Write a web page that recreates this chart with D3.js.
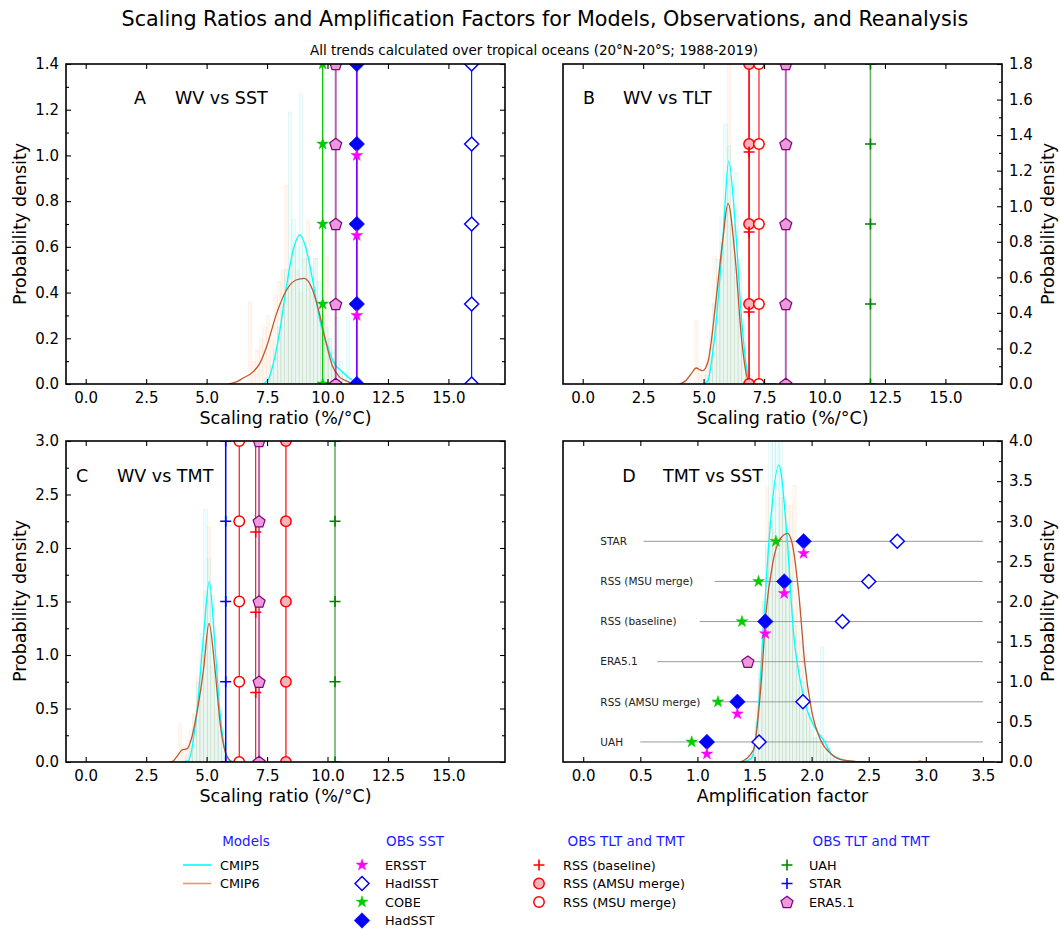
<!doctype html>
<html lang="en">
<head>
<meta charset="utf-8">
<title>Scaling Ratios and Amplification Factors</title>
<script src="https://d3js.org/d3.v7.min.js"></script>
<style>
  body { margin: 0; background: #fff; }
  text { font-family: "DejaVu Sans", sans-serif; }
</style>
</head>
<body>
<div id="chart"></div>
<script>
// ---------- values ----------
var ratioTicks = [0, 2.5, 5, 7.5, 10, 12.5, 15];
var ampTicks = [0, 0.5, 1, 1.5, 2, 2.5, 3, 3.5];
var yTicksA = [0, 0.2, 0.4, 0.6, 0.8, 1.0, 1.2, 1.4];
var yTicksB = [0, 0.2, 0.4, 0.6, 0.8, 1.0, 1.2, 1.4, 1.6, 1.8];
var yTicksC = [0, 0.5, 1.0, 1.5, 2.0, 2.5, 3.0];
var yTicksD = [0, 0.5, 1.0, 1.5, 2.0, 2.5, 3.0, 3.5, 4.0];

// observed scaling ratios (%/°C)
var namesA = ["COBE", "ERA5.1", "HadSST", "ERSST", "HadISST"];
var ratioA = [9.80, 10.34, 11.21, 11.21, 15.96];
var namesB = ["RSS (AMSU merge)", "RSS (baseline)", "RSS (MSU merge)", "ERA5.1", "UAH"];
var ratioB = [6.88, 6.88, 7.29, 8.40, 11.90];
var namesC = ["STAR", "RSS (MSU merge)", "RSS (baseline)", "ERA5.1", "RSS (AMSU merge)", "UAH"];
var ratioC = [5.79, 6.35, 7.03, 7.17, 8.28, 10.31];

// panel D amplification factors, one row per TMT dataset
var rowsD = ["UAH", "RSS (AMSU merge)", "ERA5.1", "RSS (baseline)", "RSS (MSU merge)", "STAR"];
var rowYD = [0.25, 0.75, 1.25, 1.75, 2.25, 2.75];
var rowStartD = [0.50, 1.13, 0.65, 1.02, 1.15, 0.53];
var cobeD = [0.95, 1.18, null, 1.39, 1.535, 1.687];
var hadsstD = [1.083, 1.35, null, 1.594, 1.76, 1.93];
var ersstD = [1.083, 1.35, null, 1.594, 1.76, 1.93];
var hadisstD = [1.54, 1.924, null, 2.27, 2.50, 2.75];
var era5D = [null, null, 1.442, null, null, null];

// model histograms
var binsA = [6.8, 6.95, 7.1, 7.25, 7.4, 7.55, 7.7, 7.85, 8.0, 8.15, 8.3, 8.45, 8.6, 8.75, 8.9, 9.05, 9.2, 9.35, 9.5, 9.65, 9.8, 9.95, 10.1, 10.25, 10.4, 10.55, 10.7, 10.85];
var histA5 = [0, 0, 0, 0, 0, 0.03, 0.08, 0.15, 0.25, 0.35, 0.5, 1.19, 0.72, 0.6, 1.27, 0.62, 0.55, 0.5, 0.55, 0.45, 0.3, 0.25, 0.2, 0.15, 0.29, 0.1, 0.05, 0.29];
var histA6 = [0.36, 0.1, 0.15, 0.2, 0.25, 0.3, 0.2, 0.39, 0.45, 0.5, 0.87, 0.45, 0.6, 0.5, 0.4, 0.55, 0.72, 0.4, 0.55, 0.35, 0.3, 0.56, 0.2, 0.1, 0.05, 0.05, 0, 0];
var binsB = [4.55, 4.7, 4.85, 5.0, 5.15, 5.3, 5.45, 5.6, 5.75, 5.9, 6.05, 6.2, 6.35, 6.5, 6.65, 6.8, 6.95];
var histB5 = [0, 0, 0, 0, 0.05, 0.2, 0.45, 0.7, 0.94, 1.46, 1.34, 0.9, 1.19, 0.7, 0.35, 0.15, 0.05];
var histB6 = [0, 0.36, 0.1, 0.05, 0.15, 0.3, 0.72, 0.6, 0.8, 1.0, 1.9, 0.8, 0.6, 0.4, 0.2, 0.1, 0];
var binsC = [3.9, 4.05, 4.2, 4.35, 4.5, 4.65, 4.8, 4.95, 5.1, 5.25, 5.4, 5.55, 5.7, 5.85];
var histC5 = [0, 0, 0.05, 0.2, 0.45, 0.75, 1.2, 2.36, 1.9, 1.56, 0.9, 0.45, 0.15, 0.05];
var histC6 = [0.36, 0.15, 0.2, 0.3, 0.45, 0.8, 1.0, 1.6, 2.2, 0.9, 0.5, 0.3, 0.1, 0.05];
var binsD = [1.46, 1.49, 1.52, 1.55, 1.58, 1.61, 1.64, 1.67, 1.70, 1.73, 1.76, 1.79, 1.82, 1.85, 1.88, 1.91, 1.94, 1.97, 2.00, 2.03, 2.06, 2.09, 2.12, 2.15, 2.18, 2.21];
var histD5 = [0, 0.1, 0.5, 1.1, 2.0, 2.7, 4.3, 4.6, 4.4, 4.5, 3.3, 2.9, 2.3, 1.7, 1.2, 0.9, 1.44, 0.6, 0.5, 0.3, 0.35, 1.44, 0.3, 0.2, 0.1, 0.05];
var histD6 = [0.1, 0.3, 0.7, 1.3, 2.0, 3.43, 3.0, 2.9, 2.8, 3.3, 3.1, 3.2, 3.2, 3.45, 2.0, 1.5, 1.0, 0.6, 0.4, 0.3, 0.25, 0.2, 0.1, 0.05, 0.05, 0.02];

// model density curves [x, density]
var kdeA5 = [[7.3,0],[7.55,0.02],[7.76,0.09],[8.03,0.236],[8.3,0.426],[8.58,0.586],[8.86,0.652],[9.13,0.586],[9.41,0.44],[9.68,0.28],[9.96,0.18],[10.23,0.1],[10.64,0.05],[11.05,0.015],[11.4,0],[13,0]];
var kdeA6 = [[5.9,0],[6.2,0.008],[6.5,0.025],[6.93,0.054],[7.2,0.09],[7.48,0.163],[7.9,0.31],[8.3,0.41],[8.7,0.455],[9.04,0.462],[9.39,0.41],[9.66,0.31],[9.94,0.18],[10.2,0.08],[10.5,0.03],[10.75,0.015],[11.2,0],[12.6,0]];
var kdeB5 = [[5.0,0],[5.18,0.02],[5.35,0.15],[5.52,0.35],[5.8,0.82],[6.04,1.254],[6.3,0.91],[6.58,0.35],[6.79,0.08],[7.0,0],[8,0]];
var kdeB6 = [[4.0,0],[4.27,0.02],[4.5,0.06],[4.69,0.09],[4.85,0.08],[4.96,0.075],[5.18,0.125],[5.52,0.48],[5.8,0.82],[6.01,1.016],[6.3,0.72],[6.58,0.24],[6.85,0.02],[7.1,0],[8,0]];
var kdeC5 = [[4.0,0],[4.24,0.01],[4.59,0.455],[4.87,1.17],[5.11,1.685],[5.35,1.07],[5.56,0.455],[5.76,0.11],[5.97,0.01],[6.3,0]];
var kdeC6 = [[3.5,0],[3.62,0.01],[3.8,0.06],[3.97,0.11],[4.2,0.125],[4.35,0.2],[4.59,0.45],[4.87,0.86],[5.1,1.296],[5.35,0.86],[5.56,0.36],[5.83,0.06],[6.1,0],[6.5,0]];
var kdeD5 = [[1.4,0],[1.474,0.05],[1.53,0.6],[1.576,1.64],[1.634,2.89],[1.713,3.70],[1.78,2.89],[1.84,1.64],[1.93,0.81],[2.04,0.40],[2.11,0.26],[2.18,0.09],[2.3,0.02],[2.45,0]];
var kdeD6 = [[1.38,0],[1.49,0.15],[1.56,1.02],[1.60,1.85],[1.66,2.48],[1.72,2.77],[1.79,2.85],[1.83,2.72],[1.89,2.06],[1.94,1.23],[2.0,0.64],[2.08,0.27],[2.17,0.10],[2.29,0.02],[2.5,0],[2.9,0],[2.95,0.01],[3.0,0],[3.6,0]];

// ---------- styles ----------
var styles = {
  "ERSST":            {shape: "star",    fill: "#ff00ff", stroke: "#ff00ff", line: "#ff00ff", lo: 0.5, lw: 1.6},
  "HadISST":          {shape: "odiamond", fill: "#ffffff", stroke: "#0000ff", line: "#0000ff", lo: 1, lw: 1.1},
  "COBE":             {shape: "star",    fill: "#00cc00", stroke: "#00cc00", line: "#00cc00", lo: 1, lw: 1.3},
  "HadSST":           {shape: "diamond", fill: "#0000ff", stroke: "#0000ff", line: "#0000ff", lo: 1, lw: 1.6},
  "RSS (baseline)":   {shape: "plus",    fill: "none",    stroke: "#ff0000", line: "#ff0000", lo: 1, lw: 1.1},
  "RSS (AMSU merge)": {shape: "circle",  fill: "#f7b3bd", stroke: "#ff0000", line: "#ff0000", lo: 0.8, lw: 1.5},
  "RSS (MSU merge)":  {shape: "circle",  fill: "#ffffff", stroke: "#ff0000", line: "#ff0000", lo: 1, lw: 1.1},
  "UAH":              {shape: "plus",    fill: "none",    stroke: "#008000", line: "#008000", lo: 0.6, lw: 1.6},
  "STAR":             {shape: "plus",    fill: "none",    stroke: "#0000ff", line: "#0000ff", lo: 1, lw: 1.5},
  "ERA5.1":           {shape: "pentagon", fill: "#ec9ad8", stroke: "#800080", line: "#800080", lo: 0.6, lw: 2}
};
var c5 = "#00ffff", c6 = "#c0582d";

var svg = d3.select("#chart").append("svg")
  .attr("width", 1060).attr("height", 929);

function shapePath(shape) {
  if (shape === "star") return d3.symbol(d3.symbolStar, 42)();
  if (shape === "circle") return d3.symbol(d3.symbolCircle, Math.PI * 27)();
  if (shape === "diamond") return "M0,-7.8L7.8,0L0,7.8L-7.8,0Z";
  if (shape === "odiamond") return "M0,-7L7,0L0,7L-7,0Z";
  if (shape === "plus") return "M-5.5,0H5.5M0,-5.5V5.5";
  var pts = d3.range(5).map(function (k) {
    var a = -Math.PI / 2 + k * 2 * Math.PI / 5;
    return [6.3 * Math.cos(a), 6.3 * Math.sin(a) + 0.6];
  });
  return "M" + pts.join("L") + "Z";
}

function marker(g, name, cx, cy) {
  var s = styles[name];
  var p = g.append("path")
    .attr("transform", "translate(" + cx + "," + cy + ")")
    .attr("d", shapePath(s.shape))
    .attr("fill", s.fill)
    .attr("stroke", s.stroke);
  if (s.shape === "plus") p.attr("stroke-width", 1.6);
  else if (s.shape === "odiamond" || s.shape === "circle") p.attr("stroke-width", 1.5);
  else if (s.shape === "pentagon") p.attr("stroke-width", 1.2);
  else p.attr("stroke-width", 0.5);
}

var fmt = d3.format(".1f");
var nclip = 0;

function panel(left, top, w, h, xdom, ydom, xticks, yticks, side) {
  var g = svg.append("g").attr("transform", "translate(" + left + "," + top + ")");
  var x = d3.scaleLinear().domain(xdom).range([0, w]);
  var y = d3.scaleLinear().domain(ydom).range([h, 0]);
  var step = yticks[1] - yticks[0];
  var minor = yticks.slice(0, -1).map(function (t) { return t + step / 2; });

  var id = "clip" + (nclip++);
  g.append("clipPath").attr("id", id).append("rect").attr("width", w).attr("height", h);
  var plot = g.append("g").attr("clip-path", "url(#" + id + ")");

  var axes = [];
  axes.push(g.append("g").attr("transform", "translate(0," + h + ")")
    .call(d3.axisBottom(x).tickValues(xticks).tickFormat(fmt).tickSize(-5).tickPadding(8)));
  axes.push(g.append("g").call(d3.axisTop(x).tickValues(xticks).tickFormat("").tickSize(-5)));
  if (side === "left") {
    axes.push(g.append("g").call(d3.axisLeft(y).tickValues(yticks).tickFormat(fmt).tickSize(-5).tickPadding(7)));
    axes.push(g.append("g").call(d3.axisLeft(y).tickValues(minor).tickFormat("").tickSize(-3)));
    axes.push(g.append("g").attr("transform", "translate(" + w + ",0)")
      .call(d3.axisRight(y).tickValues(yticks).tickFormat("").tickSize(-5)));
    axes.push(g.append("g").attr("transform", "translate(" + w + ",0)")
      .call(d3.axisRight(y).tickValues(minor).tickFormat("").tickSize(-3)));
  } else {
    axes.push(g.append("g").attr("transform", "translate(" + w + ",0)")
      .call(d3.axisRight(y).tickValues(yticks).tickFormat(fmt).tickSize(-5).tickPadding(7)));
    axes.push(g.append("g").attr("transform", "translate(" + w + ",0)")
      .call(d3.axisRight(y).tickValues(minor).tickFormat("").tickSize(-3)));
  }
  axes.forEach(function (a) {
    a.select(".domain").remove();
    a.selectAll(".tick line").attr("stroke", "#000").attr("stroke-width", 1.1);
    a.selectAll(".tick text").attr("font-size", 15).attr("fill", "#000")
      .attr("font-family", "DejaVu Sans, sans-serif");
  });
  g.append("rect").attr("width", w).attr("height", h)
    .attr("fill", "none").attr("stroke", "#000").attr("stroke-width", 1.6);
  return {g: g, plot: plot, x: x, y: y, w: w, h: h};
}

function hist(p, bins, vals, bw, color, op, edge, eop) {
  p.plot.append("g").selectAll("rect").data(bins).enter().append("rect")
    .attr("x", function (d) { return p.x(d - bw / 2); })
    .attr("width", p.x(bw) - p.x(0))
    .attr("y", function (d, i) { return p.y(vals[i]); })
    .attr("height", function (d, i) { return p.y(0) - p.y(vals[i]); })
    .attr("fill", color).attr("fill-opacity", op)
    .attr("stroke", edge).attr("stroke-opacity", eop).attr("stroke-width", 0.5);
}

function kde(p, pts, color) {
  var line = d3.line()
    .x(function (d) { return p.x(d[0]); })
    .y(function (d) { return p.y(d[1]); })
    .curve(d3.curveMonotoneX);
  p.plot.append("path").attr("d", line(pts))
    .attr("fill", "none").attr("stroke", color).attr("stroke-width", 1.3);
}

function models(p, bins, h5, h6, bw, k5, k6) {
  hist(p, bins, h6, bw, "#f4a460", 0.1, "#f4a460", 0.12);
  hist(p, bins, h5, bw, "#00ffff", 0.08, "#4aa58a", 0.16);
  kde(p, k5, c5);
  kde(p, k6, c6);
}

// vertical observation lines with markers at quarter heights of the y range
function obsLines(p, names, vals, offset) {
  var top = p.y.domain()[1];
  names.forEach(function (n, i) {
    var s = styles[n];
    p.plot.append("line")
      .attr("x1", p.x(vals[i])).attr("x2", p.x(vals[i]))
      .attr("y1", 0).attr("y2", p.h)
      .attr("stroke", s.line).attr("stroke-opacity", s.lo).attr("stroke-width", s.lw);
  });
  names.forEach(function (n, i) {
    var isOff = (n === "ERSST" || n === "RSS (baseline)");
    var fr = isOff ? [0.25, 0.5, 0.75] : [0, 0.25, 0.5, 0.75, 1];
    fr.forEach(function (f) {
      marker(p.plot, n, p.x(vals[i]), p.y(f * top - (isOff ? offset : 0)));
    });
  });
}

function panelTitle(p, letter, title, lx, tx, by) {
  p.g.append("text").attr("x", lx).attr("y", by).attr("text-anchor", "middle")
    .attr("font-size", 17.5).text(letter);
  p.g.append("text").attr("x", tx).attr("y", by).attr("font-size", 17.5).text(title);
}

function xLabel(p, t) {
  p.g.append("text").attr("x", p.w / 2).attr("y", p.h + 40)
    .attr("text-anchor", "middle").attr("font-size", 17.5).text(t);
}

function yLabel(cx, cy, t) {
  svg.append("text").attr("transform", "translate(" + cx + "," + cy + ") rotate(-90)")
    .attr("text-anchor", "middle").attr("dy", "0.35em").attr("font-size", 17.5).text(t);
}

// ---------- titles ----------
svg.append("text").attr("x", 545).attr("y", 26).attr("text-anchor", "middle")
  .attr("font-size", 20.7).text("Scaling Ratios and Amplification Factors for Models, Observations, and Reanalysis");
svg.append("text").attr("x", 534).attr("y", 55).attr("text-anchor", "middle")
  .attr("font-size", 13.5).text("All trends calculated over tropical oceans (20°N-20°S; 1988-2019)");

// ---------- panel A ----------
var pA = panel(66, 64, 439, 320, [-0.815, 17.34], [0, 1.4], ratioTicks, yTicksA, "left");
models(pA, binsA, histA5, histA6, 0.15, kdeA5, kdeA6);
obsLines(pA, namesA, ratioA, 0.05);
panelTitle(pA, "A", "WV vs SST", 74, 109, 40);
xLabel(pA, "Scaling ratio (%/°C)");
yLabel(20, 224, "Probability density");

// ---------- panel B ----------
var pB = panel(563, 64, 439, 320, [-0.815, 17.34], [0, 1.8], ratioTicks, yTicksB, "right");
models(pB, binsB, histB5, histB6, 0.15, kdeB5, kdeB6);
obsLines(pB, namesB, ratioB, 0.045);
panelTitle(pB, "B", "WV vs TLT", 26, 60, 40);
xLabel(pB, "Scaling ratio (%/°C)");
yLabel(1048, 224, "Probability density");

// ---------- panel C ----------
var pC = panel(66, 441, 439, 321, [-0.815, 17.34], [0, 3], ratioTicks, yTicksC, "left");
models(pC, binsC, histC5, histC6, 0.15, kdeC5, kdeC6);
obsLines(pC, namesC, ratioC, 0.1);
panelTitle(pC, "C", "WV vs TMT", 16, 51, 41);
xLabel(pC, "Scaling ratio (%/°C)");
yLabel(20, 601, "Probability density");

// ---------- panel D ----------
var pD = panel(563, 441, 439, 321, [-0.177, 3.667], [0, 4], ampTicks, yTicksD, "right");
rowsD.forEach(function (r, i) {
  pD.plot.append("line")
    .attr("x1", pD.x(rowStartD[i])).attr("x2", pD.x(3.5))
    .attr("y1", pD.y(rowYD[i])).attr("y2", pD.y(rowYD[i]))
    .attr("stroke", "#999").attr("stroke-width", 1);
  pD.g.append("text").attr("x", pD.x(0.15)).attr("y", pD.y(rowYD[i])).attr("dy", "0.36em")
    .attr("font-size", 10.5).attr("fill", "#222").text(r);
});
models(pD, binsD, histD5, histD6, 0.03, kdeD5, kdeD6);
rowsD.forEach(function (r, i) {
  var yy = rowYD[i];
  if (cobeD[i] !== null) marker(pD.plot, "COBE", pD.x(cobeD[i]), pD.y(yy));
  if (hadsstD[i] !== null) marker(pD.plot, "HadSST", pD.x(hadsstD[i]), pD.y(yy));
  if (ersstD[i] !== null) marker(pD.plot, "ERSST", pD.x(ersstD[i]), pD.y(yy - 0.15));
  if (hadisstD[i] !== null) marker(pD.plot, "HadISST", pD.x(hadisstD[i]), pD.y(yy));
  if (era5D[i] !== null) marker(pD.plot, "ERA5.1", pD.x(era5D[i]), pD.y(yy));
});
panelTitle(pD, "D", "TMT vs SST", 66, 100, 41);
xLabel(pD, "Amplification factor");
yLabel(1048, 601, "Probability density");

// ---------- legend ----------
var legModels = ["CMIP5", "CMIP6"];
var legSST = ["ERSST", "HadISST", "COBE", "HadSST"];
var legTLT1 = ["RSS (baseline)", "RSS (AMSU merge)", "RSS (MSU merge)"];
var legTLT2 = ["UAH", "STAR", "ERA5.1"];
var legRows = [865, 883.5, 902, 920.5];

var leg = svg.append("g");
function legHead(cx, t) {
  leg.append("text").attr("x", cx).attr("y", 846).attr("text-anchor", "middle")
    .attr("font-size", 13.5).attr("fill", "#1a1aff").text(t);
}
legHead(246, "Models");
legHead(415, "OBS SST");
legHead(626, "OBS TLT and TMT");
legHead(871, "OBS TLT and TMT");

legModels.forEach(function (m, i) {
  leg.append("line").attr("x1", 183).attr("x2", 211)
    .attr("y1", legRows[i]).attr("y2", legRows[i])
    .attr("stroke", i === 0 ? c5 : "#e59a66").attr("stroke-width", 1.6);
  leg.append("text").attr("x", 220).attr("y", legRows[i]).attr("dy", "0.36em")
    .attr("font-size", 12.8).text(m);
});
function legCol(names, mx, tx) {
  names.forEach(function (n, i) {
    marker(leg, n, mx, legRows[i]);
    leg.append("text").attr("x", tx).attr("y", legRows[i]).attr("dy", "0.36em")
      .attr("font-size", 12.8).text(n);
  });
}
legCol(legSST, 362, 385);
legCol(legTLT1, 539, 563);
legCol(legTLT2, 787, 809);
</script>
</body>
</html>
